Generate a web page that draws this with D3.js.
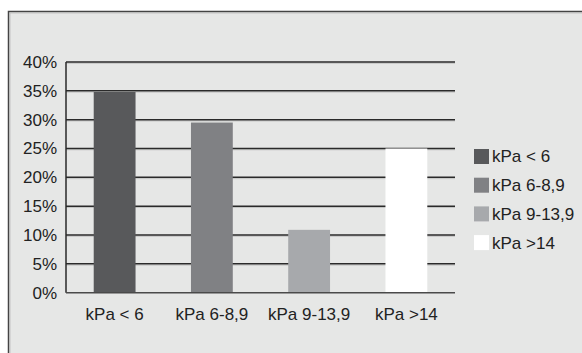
<!DOCTYPE html>
<html>
<head>
<meta charset="utf-8">
<script src="https://cdn.jsdelivr.net/npm/d3@7"></script>
<style>
  html, body { margin: 0; padding: 0; background: #ffffff; }
  svg { display: block; font-family: "Liberation Sans", Arial, sans-serif; }
</style>
</head>
<body>
<svg id="chart" width="582" height="353"></svg>
<script>
// Pressure classes and share of measurements in each
const categories = ["kPa < 6", "kPa 6-8,9", "kPa 9-13,9", "kPa >14"];
const shares = [34.8, 29.5, 10.9, 25.0];
const colors = ["#58595b", "#808184", "#a7a9ac", "#ffffff"];
const yTicks = [0, 5, 10, 15, 20, 25, 30, 35, 40];

const svg = d3.select("#chart");
const W = 582, H = 353;
const FS = 17;

// panel background with frame on the left and top
svg.append("rect").attr("x", 8.5).attr("y", 11.5).attr("width", W).attr("height", H)
  .attr("fill", "#e6e7e6").attr("stroke", "#444").attr("stroke-width", 1.5);
svg.append("rect").attr("x", 10).attr("y", 13).attr("width", W).attr("height", H)
  .attr("fill", "none").attr("stroke", "#bbb").attr("stroke-width", 0.8);

const plot = { left: 66, right: 455, top: 62, bottom: 292.7 };

const x = d3.scaleBand().domain(categories)
  .range([plot.left, plot.right]).paddingInner(0.57).paddingOuter(0.285);
const y = d3.scaleLinear().domain([0, 40]).range([plot.bottom, plot.top]);

// horizontal gridlines
const grid = svg.append("g");
grid.selectAll("line.shadow").data(yTicks.slice(1)).join("line")
  .attr("class", "shadow")
  .attr("x1", plot.left).attr("x2", plot.right)
  .attr("y1", d => y(d) + 1.3).attr("y2", d => y(d) + 1.3)
  .attr("stroke", "#c4c5c4").attr("stroke-width", 1);
grid.selectAll("line.main").data(yTicks.slice(1)).join("line")
  .attr("class", "main")
  .attr("x1", plot.left).attr("x2", plot.right)
  .attr("y1", d => y(d)).attr("y2", d => y(d))
  .attr("stroke", "#2a2a2a").attr("stroke-width", 1.5);

// bars
svg.append("g").selectAll("rect").data(shares).join("rect")
  .attr("x", (d, i) => x(categories[i]))
  .attr("width", x.bandwidth())
  .attr("y", d => y(d))
  .attr("height", d => y(0) - y(d))
  .attr("fill", (d, i) => colors[i]);

// axes lines
svg.append("line").attr("x1", plot.left).attr("x2", plot.left)
  .attr("y1", plot.top).attr("y2", plot.bottom)
  .attr("stroke", "#2a2a2a").attr("stroke-width", 1.5);
svg.append("line").attr("x1", plot.left).attr("x2", plot.right)
  .attr("y1", plot.bottom).attr("y2", plot.bottom)
  .attr("stroke", "#4a4a4a").attr("stroke-width", 1.6);

// y tick labels
const yAxis = d3.axisLeft(y).tickValues(yTicks).tickFormat(d => d + "%").tickSize(0).tickPadding(9);
const yg = svg.append("g").attr("transform", `translate(${plot.left},0)`).call(yAxis);
yg.select(".domain").remove();
yg.selectAll("text").attr("font-size", FS).attr("fill", "#222")
  .attr("font-family", "Liberation Sans, Arial, sans-serif");

// x tick labels
const xAxis = d3.axisBottom(x).tickSize(0).tickPadding(15);
const xg = svg.append("g").attr("transform", `translate(0,${plot.bottom})`).call(xAxis);
xg.select(".domain").remove();
xg.selectAll("text").attr("font-size", FS).attr("fill", "#222")
  .attr("font-family", "Liberation Sans, Arial, sans-serif");

// legend
const legend = svg.append("g").attr("transform", "translate(474,149)");
const items = legend.selectAll("g").data(categories).join("g")
  .attr("transform", (d, i) => `translate(0,${i * 28.7})`);
items.append("rect").attr("width", 15).attr("height", 15)
  .attr("fill", (d, i) => colors[i]);
items.append("text").attr("x", 18).attr("y", 7.5).attr("dy", "0.35em")
  .attr("font-size", FS).attr("fill", "#222").text(d => d);
</script>
</body>
</html>
